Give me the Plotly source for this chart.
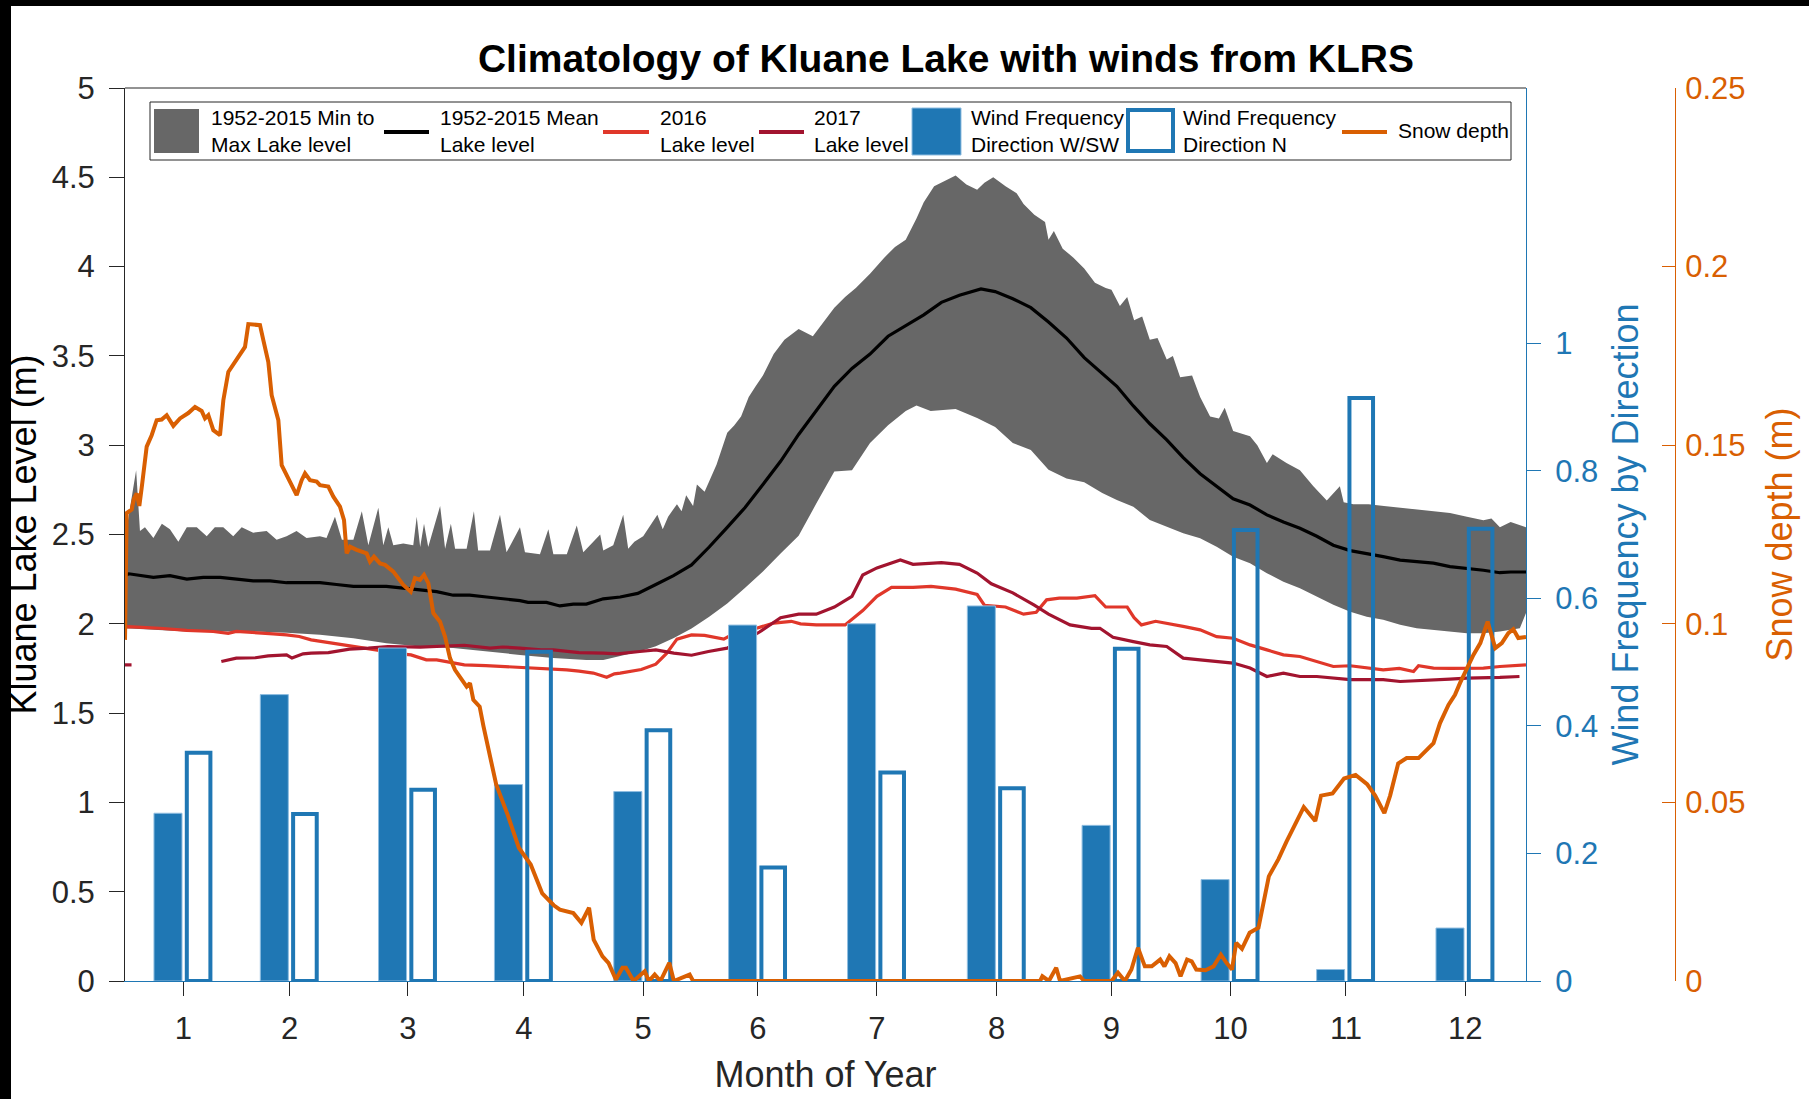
import plotly.graph_objects as go

# ---------------- data ----------------
MONTH_LABELS = ["1", "2", "3", "4", "5", "6", "7", "8", "9", "10", "11", "12"]
MONTH_TICK_DAYS = [16.2, 43.9, 74.7, 104.9, 136.0, 165.9, 196.9, 228.1, 258.0, 289.0, 319.1, 350.2]

WIND_WSW = [0.263, 0.449, 0.522, 0.308, 0.297, 0.558, 0.560, 0.588, 0.244, 0.159, 0.018, 0.083]
WIND_N = [0.358, 0.262, 0.300, 0.516, 0.393, 0.178, 0.327, 0.302, 0.521, 0.707, 0.914, 0.709]

BAND_MAX_DAY = [1, 1.4, 3.9, 4.9, 6.2, 8.4, 10.6, 12.7, 14.9, 17.1, 19.7, 22.3, 24.4, 26.6, 29.2, 31.4,
                34.4, 37.9, 40.5, 43.1, 45.7, 48.3, 51.8, 53.5, 55.7, 57.5, 60.5, 62.7, 64.4, 67, 68.3,
                69.6, 70.9, 73.5, 76.1, 77, 77.9, 78.9, 80, 83.1, 84.4, 85.9, 87, 90, 91.9, 93, 96.1,
                98.7, 100.4, 103.9, 105.2, 109.1, 111.3, 112.6, 116.1, 118.7, 120.4, 124.8, 125.6,
                128.2, 130.8, 132.1, 133.7, 136, 139.7, 141.1, 142.5, 144.8, 146, 147.2, 149, 150, 152,
                155.1, 157.9, 159.7, 161.5, 163.5, 165.3, 167.2, 170, 172.8, 176.5, 180.2, 183, 185.8,
                188.6, 191.4, 195.1, 198.8, 201.6, 204.4, 207.2, 209.1, 211.8, 214.6, 217.4, 220.2, 223,
                224.9, 227.2, 230.4, 233.3, 235.1, 237.9, 240.7, 241.6, 243, 245.3, 248.1, 250.9, 253.7,
                256.5, 258, 260.2, 262.1, 263.9, 266, 268, 270, 272.4, 274, 275.9, 279, 281.1, 283.7,
                286, 287.5, 289.7, 294.1, 296, 298.5, 300, 303.6, 307.1, 310.6, 314.1, 317.5, 318.5,
                321, 325, 329, 333.2, 337.5, 342, 346.2, 350.6, 354.9, 357, 359.2, 362, 366]
BAND_MAX_M = [2.53, 2.53, 2.86, 2.52, 2.54, 2.48, 2.56, 2.53, 2.46, 2.54, 2.54, 2.49, 2.54, 2.54, 2.49, 2.54,
              2.51, 2.52, 2.47, 2.49, 2.52, 2.48, 2.49, 2.48, 2.60, 2.47, 2.47, 2.63, 2.44, 2.65, 2.44,
              2.54, 2.44, 2.45, 2.44, 2.60, 2.43, 2.56, 2.43, 2.66, 2.42, 2.56, 2.42, 2.42, 2.63, 2.41, 2.41,
              2.61, 2.40, 2.54, 2.40, 2.39, 2.53, 2.39, 2.39, 2.55, 2.40, 2.50, 2.41,
              2.44, 2.61, 2.42, 2.46, 2.49, 2.61, 2.53, 2.60, 2.67, 2.63, 2.72, 2.66, 2.78, 2.74,
              2.89, 3.07, 3.11, 3.16, 3.27, 3.33, 3.39, 3.51, 3.59, 3.65, 3.61, 3.69, 3.77,
              3.83, 3.88, 3.96, 4.05, 4.11, 4.15, 4.27, 4.36, 4.45, 4.48, 4.51, 4.46, 4.43,
              4.47, 4.50, 4.45, 4.41, 4.35, 4.29, 4.25, 4.15, 4.20, 4.10, 4.05, 3.99, 3.91,
              3.88, 3.87, 3.78, 3.83, 3.70, 3.72, 3.59, 3.60, 3.48, 3.50, 3.38, 3.39, 3.27, 3.16,
              3.15, 3.21, 3.08, 3.05, 3.00, 2.90, 2.95, 2.90, 2.86, 2.77, 2.69, 2.77, 2.68,
              2.67, 2.67, 2.66, 2.65, 2.64, 2.63, 2.62, 2.60, 2.58, 2.59, 2.54, 2.57, 2.54]

BAND_MIN_DAY = [1, 17.1, 34.4, 43.1, 51.8, 60.5, 69.1, 77.9, 86.5, 95.2, 103.9, 112.6, 121.2, 125.6, 130,
                135, 139.3, 144, 148.6, 153.2, 157.9, 162.5, 167.2, 171.8, 176.5, 181.1, 185.8, 190.4,
                195.1, 199.8, 204.4, 207.2, 210.9, 217.4, 223, 227.7, 232.3, 237, 241.6, 246.3, 250.9,
                255.6, 259.4, 263.7, 268, 272.4, 276.7, 281.1, 285.4, 289.7, 294.1, 298.5, 302.8, 307.1,
                311.5, 315.8, 320.2, 324.5, 328.8, 333.2, 337.5, 341.9, 346.2, 350.6, 354.9, 359.2,
                364.4, 366]
BAND_MIN_M = [1.975, 1.957, 1.957, 1.950, 1.938, 1.919, 1.891, 1.873, 1.864, 1.845, 1.826, 1.808, 1.798,
              1.798, 1.820, 1.845, 1.874, 1.920, 1.974, 2.040, 2.113, 2.200, 2.293, 2.393, 2.493, 2.673,
              2.853, 2.860, 3.012, 3.112, 3.192, 3.222, 3.192, 3.202, 3.152, 3.102, 3.012, 2.973, 2.863,
              2.813, 2.793, 2.733, 2.693, 2.656, 2.581, 2.544, 2.507, 2.479, 2.432, 2.376, 2.339, 2.283,
              2.236, 2.199, 2.152, 2.106, 2.068, 2.040, 2.022, 1.994, 1.975, 1.966, 1.957, 1.947, 1.947,
              1.957, 1.975, 2.060]

MEAN_DAY = [1, 2, 8.4, 12.7, 17.1, 21.4, 25.8, 30.1, 34.4, 38.8, 43.1, 47.4, 51.8, 56.1, 60.5, 64.8,
            69.1, 73.5, 77.8, 82.2, 86.5, 90.8, 95.2, 99.5, 103.9, 106, 110.8, 114.3, 117.8, 121.2,
            125.6, 130, 134.6, 139.3, 143.9, 148.6, 153.2, 157.9, 162.5, 167.2, 171.8, 176.5, 181.1,
            185.8, 190.4, 195.1, 199.8, 204.4, 209.1, 213.7, 218.4, 224, 227.7, 232.3, 237, 241.6,
            246.3, 250.9, 255.6, 259.4, 263.7, 268, 272.4, 276.7, 281.1, 285.4, 289.7, 294.1, 298.5,
            302.8, 307.1, 311.5, 315.8, 320.2, 324.5, 328.8, 333.2, 337.5, 341.9, 346.2, 350.6, 354.9,
            359.2, 362, 366]
MEAN_M = [2.27, 2.28, 2.26, 2.27, 2.25, 2.26, 2.26, 2.25, 2.24, 2.24, 2.23, 2.23, 2.23, 2.22, 2.21, 2.21,
          2.21, 2.20, 2.19, 2.18, 2.16, 2.16, 2.15, 2.14, 2.13, 2.12, 2.12, 2.10, 2.11, 2.11,
          2.14, 2.15, 2.17, 2.22, 2.27, 2.33, 2.43, 2.54, 2.65, 2.78, 2.91, 3.06, 3.19,
          3.33, 3.43, 3.51, 3.61, 3.67, 3.73, 3.80, 3.84, 3.875, 3.86, 3.82, 3.77, 3.69,
          3.60, 3.49, 3.40, 3.33, 3.22, 3.12, 3.03, 2.93, 2.84, 2.77, 2.70, 2.665, 2.61,
          2.57, 2.535, 2.49, 2.44, 2.41, 2.395, 2.376, 2.357, 2.35, 2.34, 2.32, 2.31, 2.30,
          2.286, 2.29, 2.29]

Y2016_DAY = [1, 1.7, 10, 17.1, 24, 27.9, 30, 34.4, 39.6, 43.1, 46.4, 49.5, 54, 57.5, 60.5, 64.4, 69.5,
             73.5, 75.5, 79.5, 82.2, 86.5, 89.4, 95, 99.4, 103.9, 109.4, 112.6, 116.1, 119.3, 123,
             126.5, 128.5, 130, 135.5, 139.3, 142.1, 144.8, 148.6, 152, 157, 160, 165.3, 170, 174.6,
             177, 181.1, 188.6, 193.2, 196.9, 200.7, 206.3, 211, 217.4, 223, 224.9, 230.4, 235.1,
             238.4, 241.1, 244.4, 249, 253.7, 256.5, 262.1, 263.9, 265.8, 269.5, 275.1, 277, 281.1,
             285.4, 289.7, 294.1, 298.5, 302.8, 307.1, 311.5, 315.8, 320.2, 324.5, 328.8, 333, 336.7,
             338, 341.9, 346.2, 350.6, 354.9, 359.2, 366]
Y2016_M = [1.98, 1.984, 1.975, 1.963, 1.957, 1.947, 1.957, 1.953, 1.944, 1.938, 1.929, 1.910, 1.895, 1.882,
           1.873, 1.858, 1.845, 1.830, 1.826, 1.798, 1.798, 1.780, 1.770, 1.766, 1.761, 1.757, 1.752,
           1.750, 1.742, 1.735, 1.724, 1.701, 1.720, 1.724, 1.744, 1.774, 1.834, 1.914, 1.938, 1.935,
           1.914, 1.950, 1.974, 2.004, 2.014, 2.000, 1.994, 1.994, 2.074, 2.154, 2.204, 2.204, 2.210,
           2.194, 2.164, 2.104, 2.094, 2.054, 2.064, 2.134, 2.144, 2.144, 2.158, 2.094, 2.094, 2.034,
           1.994, 2.014, 1.994, 1.984, 1.966, 1.928, 1.919, 1.882, 1.854, 1.826, 1.817, 1.789, 1.761,
           1.765, 1.752, 1.742, 1.750, 1.733, 1.765, 1.752, 1.750, 1.752, 1.752, 1.761, 1.770]

Y2017_DAY = [1, 2.7, 14, 26.1, 30, 35, 38.3, 43.1, 44.5, 47.4, 49.5, 54, 57.5, 59.5, 64.4, 69.5, 77.9,
             84.4, 89.4, 96.1, 99.4, 103.9, 109.4, 112.6, 119.3, 125.6, 129.3, 135.1, 139.3, 144,
             148.6, 153, 157.9, 162, 166.3, 171.8, 176.5, 181.1, 185.8, 190.4, 193.2, 196.9, 203,
             206.3, 213.7, 218.4, 223, 226.7, 232.3, 237.9, 241.6, 247.2, 252.8, 255, 258.4, 263.7,
             268, 272.4, 276.7, 281.1, 285.4, 289.7, 294.1, 298.5, 302.8, 307.1, 311.5, 315.8, 320.2,
             324.5, 328.8, 333.2, 337.5, 341.9, 346.2, 350.6, 354.9, 359.2, 364.3]
Y2017_M = [1.77, 1.77, None, 1.789, 1.808, 1.810, 1.820, 1.826, 1.808, 1.832, 1.836, 1.839, 1.850, 1.858,
           1.864, 1.873, 1.869, 1.873, 1.880, 1.864, 1.870, 1.864, 1.854, 1.854, 1.839, 1.836, 1.832,
           1.845, 1.854, 1.836, 1.824, 1.845, 1.864, 1.900, 1.954, 2.034, 2.054, 2.054, 2.094, 2.154,
           2.273, 2.313, 2.357, 2.333, 2.343, 2.333, 2.284, 2.224, 2.173, 2.104, 2.054, 1.994, 1.974,
           1.975, 1.924, 1.900, 1.882, 1.873, 1.808, 1.798, 1.789, 1.780, 1.752, 1.705, 1.724, 1.705,
           1.705, 1.696, 1.687, 1.687, 1.687, 1.677, 1.680, 1.687, 1.690, 1.696, 1.696, 1.700, 1.705]

SNOW_DAY = [1, 1.43, 2.74, 3.34, 4.04, 4.73, 5.34, 6.65, 7.95, 9.25, 10.55, 11.86, 13.59, 15.33, 17.5,
            19.24, 20.97, 21.84, 22.71, 24.01, 25.75, 26.62, 27.92, 30.09, 32.26, 33.13, 35.3, 36.17,
            37.04, 38.34, 39.21, 40.95, 41.82, 43.12, 44.42, 45.72, 47.03, 47.9, 49.2, 50.94, 51.8,
            53.97, 55.28, 57.01, 58.06, 58.75, 59.62, 61.36, 63.96, 64.83, 65.87, 67.44, 68.74, 70.91,
            73.51, 75.43, 76.55, 77.86, 78.9, 80.03, 81.33, 83.07, 84.37, 85.67, 86.97, 88.28, 90.01,
            90.88, 91.75, 93.4, 94.4, 97.7, 100.7, 103.6, 106.7, 109.7, 112.7, 114.3, 117.8, 119.9,
            121.9, 123.1, 125.4, 127, 128.9, 130.6, 131.5, 133.5, 136.4, 137.5, 139, 140.5, 142.8, 144,
            148.1, 149, 239.4, 240, 241.7, 243.6, 244.6, 249.8, 250.9, 258, 259.7, 261.5, 263.2, 264.9,
            266.7, 268.5, 270.7, 271.8, 273.1, 274.7, 276, 277.7, 278.9, 280.1, 282.5, 284.6, 286.5,
            288, 289.4, 290.5, 292, 294, 296.3, 299, 301.5, 303.6, 306.6, 308.1, 311.1, 312.6, 315.6,
            318.6, 321.6, 324.6, 326.7, 329.1, 330.6, 332.7, 334.9, 338, 341.9, 343.6, 345.8, 347.5,
            348.8, 350.6, 352.3, 354.1, 356, 358, 359.7, 361.4, 362.7, 364, 366]
SNOW_M = [0.0955, 0.131, 0.132, 0.135, 0.1365, 0.133, 0.138, 0.1496, 0.1528, 0.157, 0.1572, 0.1584, 0.1554,
          0.1575, 0.159, 0.1607, 0.1596, 0.1575, 0.1584, 0.1542, 0.1528, 0.1626, 0.1705, 0.1738, 0.1775,
          0.1839, 0.1836, 0.1836, 0.1794, 0.1733, 0.164, 0.157, 0.1444, 0.1416, 0.1384, 0.136, 0.1402,
          0.1421, 0.1402, 0.1398, 0.1388, 0.1384, 0.1356, 0.1328, 0.129, 0.1197, 0.1216, 0.1207, 0.1197,
          0.1174, 0.1188, 0.1169, 0.1165, 0.1146, 0.1109, 0.109, 0.1128, 0.1123, 0.1137, 0.1114, 0.103,
          0.1006, 0.0964, 0.0904, 0.0871, 0.0852, 0.0824, 0.0834, 0.0787, 0.0768, 0.0713, 0.055, 0.0465,
          0.0373, 0.0326, 0.0245, 0.0212, 0.020, 0.019, 0.0163, 0.0205, 0.0116, 0.0069, 0.005, 0.0004,
          0.0037, 0.0037, 0.0, 0.0027, 0.0, 0.0018, 0.0, 0.0051, 0.0, 0.0018, 0.0, 0.0, 0.0013, 0.0,
          0.0037, 0.0, 0.0013, 0.0, 0.0, 0.0023, 0.0, 0.0032, 0.0093, 0.0041, 0.0041, 0.006, 0.0041,
          0.0069, 0.005, 0.0013, 0.006, 0.0055, 0.0032, 0.003, 0.0041, 0.0074, 0.005, 0.0032, 0.0107,
          0.009, 0.0135, 0.0149, 0.0293, 0.0341, 0.039, 0.0454, 0.0487, 0.0448, 0.0519, 0.0525, 0.0567,
          0.0577, 0.0551, 0.0519, 0.047, 0.0519, 0.0609, 0.0624, 0.0624, 0.0666, 0.0722, 0.0773, 0.0801,
          0.0834, 0.0876, 0.0913, 0.0946, 0.1006, 0.0932, 0.0946, 0.0974, 0.0985, 0.096, 0.0963]

SERIES_NAMES = ["1952-2015 Min to<br>Max Lake level", "1952-2015 Mean<br>Lake level",
                "2016<br>Lake level", "2017<br>Lake level", "Wind Frequency<br>Direction W/SW",
                "Wind Frequency<br>Direction N", "Snow depth"]

# ---------------- styling ----------------
FONT = "Liberation Sans, Arial, Helvetica, sans-serif"
GRAY = "#676767"
BLUE = "#1F77B4"
RED16 = "#E0372A"
RED17 = "#A2142F"
ORANGE = "#D95F02"
AX = "#262626"

W, H = 1809, 1099
ML, MR, MT, MB = 125, 80, 88, 118
PW = W - ML - MR
PH = H - MT - MB
XD = (1526 - ML) / PW          # right end of the plot area (paper)
SNOW_POS = (1675 - ML) / PW     # position of the snow-depth axis


def pxx(x):
    return (x - ML) / PW


def pxy(y):
    return (H - MB - y) / PH


fig = go.Figure()

# min-max band
fig.add_trace(go.Scatter(
    x=BAND_MAX_DAY + BAND_MIN_DAY[::-1], y=BAND_MAX_M + BAND_MIN_M[::-1],
    fill="toself", fillcolor=GRAY, line=dict(width=0, color=GRAY), mode="lines",
    name=SERIES_NAMES[0], showlegend=False, hoverinfo="skip"))
fig.add_trace(go.Scatter(x=MEAN_DAY, y=MEAN_M, mode="lines", line=dict(color="black", width=3.2),
                         name=SERIES_NAMES[1], showlegend=False))
fig.add_trace(go.Scatter(x=Y2016_DAY, y=Y2016_M, mode="lines", line=dict(color=RED16, width=3.2),
                         name=SERIES_NAMES[2], showlegend=False))
fig.add_trace(go.Scatter(x=Y2017_DAY, y=Y2017_M, mode="lines", line=dict(color=RED17, width=3.2),
                         name=SERIES_NAMES[3], showlegend=False, connectgaps=False))

# wind bars (on the wind-frequency axis)
fig.add_trace(go.Bar(x=MONTH_TICK_DAYS, y=WIND_WSW, yaxis="y2", offset=-7.65, width=7.3,
                     marker=dict(color=BLUE, line=dict(color="#8fbde0", width=1)),
                     name=SERIES_NAMES[4], showlegend=False))
fig.add_trace(go.Bar(x=MONTH_TICK_DAYS, y=WIND_N, yaxis="y2", offset=0.9, width=6.15,
                     marker=dict(color="rgba(0,0,0,0)", line=dict(color=BLUE, width=4)),
                     name=SERIES_NAMES[5], showlegend=False))

# snow depth
fig.add_trace(go.Scatter(x=SNOW_DAY, y=SNOW_M, yaxis="y3", mode="lines",
                         line=dict(color=ORANGE, width=4), name=SERIES_NAMES[6], showlegend=False))

tickfont = dict(family=FONT, size=31, color=AX)

fig.update_layout(
    width=W, height=H,
    margin=dict(l=ML, r=MR, t=MT, b=MB, pad=0),
    paper_bgcolor="white", plot_bgcolor="white",
    font=dict(family=FONT, color=AX),
    barmode="overlay",
    title=dict(text="<b>Climatology of Kluane Lake with winds from KLRS</b>",
               font=dict(family=FONT, size=39, color="black"),
               x=(946 - ML) / PW, xref="paper", xanchor="center",
               y=1 - 58 / H, yref="container", yanchor="middle"),
    xaxis=dict(domain=[0, XD], range=[1, 366], tickvals=MONTH_TICK_DAYS, ticktext=MONTH_LABELS,
               ticks="outside", ticklen=14, tickwidth=1, tickcolor=AX, tickfont=tickfont,
               ticklabelstandoff=6,
               showline=True, linecolor=BLUE, linewidth=1, showgrid=False, zeroline=False,
               title=dict(text="Month of Year", font=dict(family=FONT, size=36, color=AX), standoff=16)),
    yaxis=dict(range=[0, 5], dtick=0.5, ticks="outside", ticklen=15, tickwidth=1, tickcolor=AX,
               tickfont=tickfont, ticklabelstandoff=8, showline=True, linecolor=AX, linewidth=1,
               showgrid=False, zeroline=False,
               title=dict(text="Kluane Lake Level (m)", font=dict(family=FONT, size=36, color="black"),
                          standoff=4)),
    yaxis2=dict(overlaying="y", side="right", anchor="x", range=[0, 1.4],
                tickvals=[0, 0.2, 0.4, 0.6, 0.8, 1.0], ticktext=["0", "0.2", "0.4", "0.6", "0.8", "1"],
                ticks="outside", ticklen=14, tickwidth=1, tickcolor=BLUE, ticklabelstandoff=8,
                tickfont=dict(family=FONT, size=31, color=BLUE), showline=True, linecolor=BLUE,
                linewidth=1, showgrid=False, zeroline=False,
                title=dict(text="Wind Frequency by Direction", font=dict(family=FONT, size=36, color=BLUE),
                           standoff=15)),
    yaxis3=dict(overlaying="y", side="right", anchor="free", position=SNOW_POS, range=[0, 0.25],
                dtick=0.05, ticks="inside", ticklen=13, tickwidth=1, tickcolor=ORANGE, ticklabelstandoff=3,
                tickfont=dict(family=FONT, size=31, color=ORANGE), showline=True, linecolor=ORANGE,
                linewidth=1, showgrid=False, zeroline=False,
                title=dict(text="Snow depth (m)", font=dict(family=FONT, size=36, color=ORANGE),
                           standoff=22)),
)

shapes = []
annos = []
# top border of the axes box
shapes.append(dict(type="line", xref="paper", yref="paper", x0=0, x1=XD, y0=1, y1=1,
                   line=dict(color=AX, width=1), layer="above"))
# black frame strips at the top and left edges of the picture
shapes.append(dict(type="rect", xref="paper", yref="paper", x0=pxx(0), x1=pxx(11), y0=pxy(H), y1=pxy(0),
                   fillcolor="black", line=dict(width=0), layer="above"))
shapes.append(dict(type="rect", xref="paper", yref="paper", x0=pxx(0), x1=pxx(W), y0=pxy(6), y1=pxy(0),
                   fillcolor="black", line=dict(width=0), layer="above"))

# legend (drawn by hand to match the original's swatch sizes)
shapes.append(dict(type="rect", xref="paper", yref="paper", x0=pxx(150), x1=pxx(1511), y0=pxy(160),
                   y1=pxy(102), fillcolor="white", line=dict(color=AX, width=1), layer="above"))
shapes.append(dict(type="rect", xref="paper", yref="paper", x0=pxx(154), x1=pxx(199), y0=pxy(153),
                   y1=pxy(109), fillcolor=GRAY, line=dict(width=0), layer="above"))
for x0, x1, col in [(384, 429, "black"), (603, 649, RED16), (759, 804, RED17), (1342, 1387, ORANGE)]:
    shapes.append(dict(type="line", xref="paper", yref="paper", x0=pxx(x0), x1=pxx(x1), y0=pxy(132),
                       y1=pxy(132), line=dict(color=col, width=4), layer="above"))
shapes.append(dict(type="rect", xref="paper", yref="paper", x0=pxx(912), x1=pxx(961), y0=pxy(155),
                   y1=pxy(108), fillcolor=BLUE, line=dict(color="#8fbde0", width=1), layer="above"))
shapes.append(dict(type="rect", xref="paper", yref="paper", x0=pxx(1128), x1=pxx(1173), y0=pxy(151),
                   y1=pxy(110), fillcolor="white", line=dict(color=BLUE, width=4), layer="above"))

LEG_TEXT_X = [209, 438, 658, 812, 969, 1181, 1396]
for tx, name in zip(LEG_TEXT_X, SERIES_NAMES):
    annos.append(dict(text=name, xref="paper", yref="paper", x=pxx(tx), y=pxy(131), xanchor="left",
                      yanchor="middle", align="left", showarrow=False,
                      font=dict(family=FONT, size=21, color="black")))

fig.update_layout(shapes=shapes, annotations=annos)

fig.write_html("out.html", config={"displayModeBar": False},
               post_script="document.body.style.margin='0px';")
